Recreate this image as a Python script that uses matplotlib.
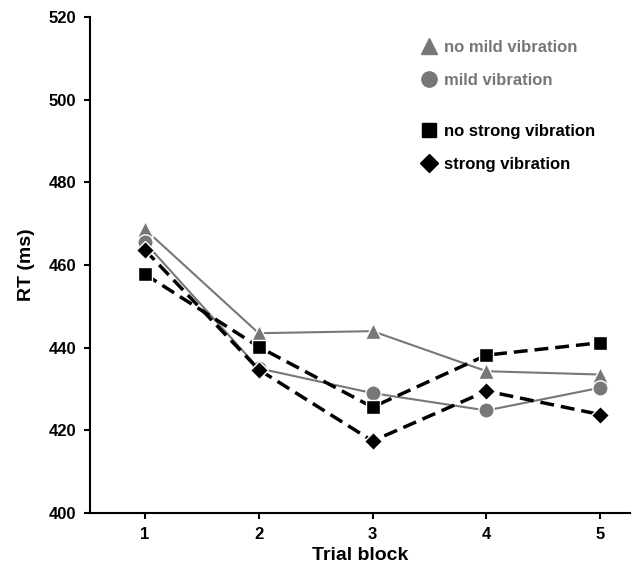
import matplotlib
matplotlib.use('Agg')
import matplotlib.pyplot as plt
from matplotlib.lines import Line2D

plt.rcParams['font.family'] = ['Liberation Sans', 'DejaVu Sans']
plt.rcParams['font.weight'] = 'bold'

blocks = [1, 2, 3, 4, 5]
no_mild = [468.7, 443.5, 444.0, 434.3, 433.5]
mild = [465.5, 435.0, 429.0, 424.8, 430.3]
no_strong = [457.8, 440.2, 425.6, 438.2, 441.2]
strong = [463.7, 434.7, 417.4, 429.5, 423.8]

gray = '#777777'

fig = plt.figure(figsize=(6.35, 5.75), dpi=100)
ax = fig.add_axes([0.142, 0.108, 0.85, 0.862])

ax.plot(blocks, no_mild, color=gray, lw=1.5, marker='^', ms=11,
        mfc=gray, mec='white', mew=1, zorder=3)
ax.plot(blocks, mild, color=gray, lw=1.5, marker='o', ms=11,
        mfc=gray, mec='white', mew=1, zorder=3)
ax.plot(blocks, no_strong, color='black', lw=2.5, ls=(0, (4, 2)), marker='s', ms=10,
        mfc='black', mec='white', mew=1, zorder=4)
ax.plot(blocks, strong, color='black', lw=2.5, ls=(0, (4, 2)), marker='D', ms=9,
        mfc='black', mec='white', mew=1, zorder=5)

ax.set_xlim(0.52, 5.26)
ax.set_ylim(400, 520)
ax.set_xticks(blocks)
ax.set_yticks(range(400, 521, 20))
ax.tick_params(labelsize=12, width=1.5, length=4, direction='out', pad=6)
for lab in ax.get_xticklabels() + ax.get_yticklabels():
    lab.set_fontweight('bold')
ax.spines['top'].set_visible(False)
ax.spines['right'].set_visible(False)
ax.spines['left'].set_linewidth(1.5)
ax.spines['bottom'].set_linewidth(1.5)
ax.set_xlabel('Trial block', fontsize=14, fontweight='bold', labelpad=4)
ax.set_ylabel('RT (ms)', fontsize=14, fontweight='bold', labelpad=10)

h1 = [Line2D([], [], ls='none', marker='^', ms=11, mfc=gray, mec=gray),
      Line2D([], [], ls='none', marker='o', ms=11, mfc=gray, mec=gray)]
leg1 = ax.legend(h1, ['no mild vibration', 'mild vibration'], loc='upper left',
                 bbox_to_anchor=(0.585, 0.985), frameon=False, fontsize=12,
                 handlelength=1, handletextpad=0.4, labelspacing=1.1)
for t in leg1.get_texts():
    t.set_color(gray)
    t.set_fontweight('bold')
ax.add_artist(leg1)

h2 = [Line2D([], [], ls='none', marker='s', ms=10, mfc='black', mec='black'),
      Line2D([], [], ls='none', marker='D', ms=9, mfc='black', mec='black')]
leg2 = ax.legend(h2, ['no strong vibration', 'strong vibration'], loc='upper left',
                 bbox_to_anchor=(0.585, 0.815), frameon=False, fontsize=12,
                 handlelength=1, handletextpad=0.4, labelspacing=1.1)
for t in leg2.get_texts():
    t.set_fontweight('bold')

fig.savefig('out.png', dpi=100)
